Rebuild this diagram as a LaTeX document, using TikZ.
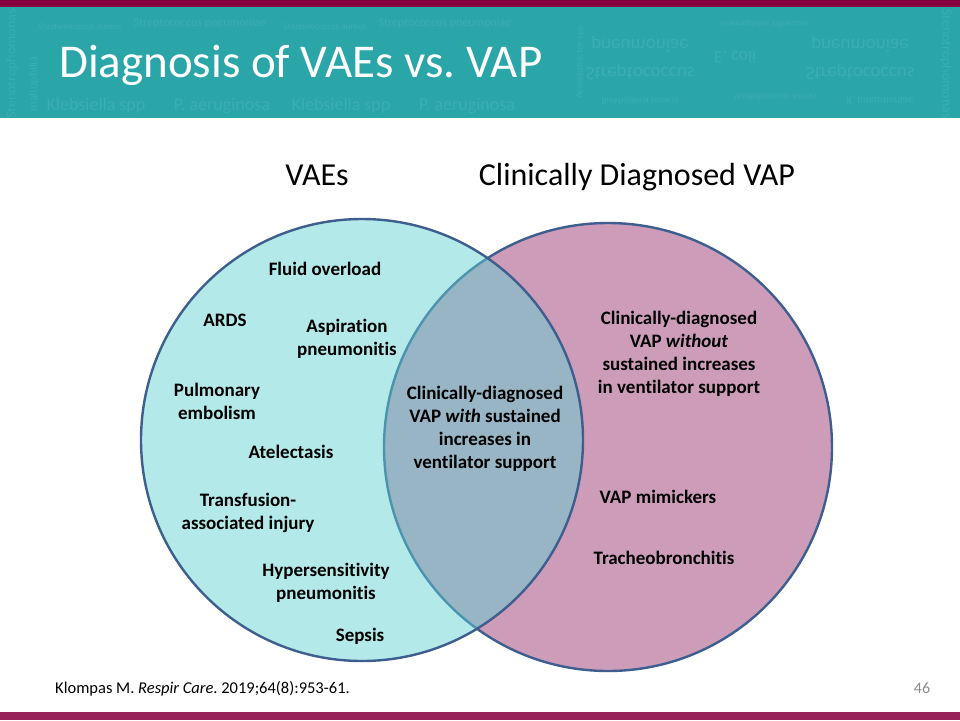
\documentclass[tikz,border=0pt]{standalone}
\usepackage{fontspec}
\setmainfont{Carlito}[Ligatures=NoCommon]
\usetikzlibrary{positioning}
\frenchspacing

\definecolor{bandteal}{HTML}{2AA5A8}
\definecolor{bandlight}{HTML}{3BAEB1}
\definecolor{topmaroon}{HTML}{86003F}
\definecolor{footmaroon}{HTML}{97235A}
\definecolor{vaefill}{HTML}{B3E9E9}
\definecolor{vapfill}{HTML}{CC9CB8}
\definecolor{lensfill}{HTML}{97B5C4}
\definecolor{ringblue}{HTML}{3D5E8E}
\definecolor{lensring}{HTML}{4B94AE}

\tikzset{
  item/.style={font=\fontsize{19}{22.8}\selectfont\bfseries, align=center, inner sep=0pt},
  heading/.style={font=\fontsize{32}{36}\selectfont, inner sep=0pt},
  texture/.style={inner sep=0pt, text=bandlight, font=\fontsize{#1}{#1}\selectfont},
  ring/.style={draw=ringblue, line width=2.4pt},
}

\begin{document}
\begin{tikzpicture}[x=1pt, y=-1pt]
\useasboundingbox (0,0) rectangle (960,720);

% header band
\fill[topmaroon] (0,0) rectangle (960,7);
\fill[bandteal] (0,7) rectangle (960,118);
\begin{scope}
\clip (0,7) rectangle (960,118);
\foreach \x/\y/\r/\s/\t [count=\i] in {
  12/64/90/14/Stenotrophomonas, 34/84/90/12/maltophilia,
  80/27/0/9/Staphylococcus aureus, 200/23/0/12/Streptococcus pneumoniae,
  96/106/0/18/Klebsiella spp, 222/106/0/18/P. aeruginosa,
  325/27/0/9/Staphylococcus aureus, 445/23/0/12/Streptococcus pneumoniae,
  341/106/0/18/Klebsiella spp, 467/106/0/18/P. aeruginosa,
  580/62/90/10/Acinetobacter spp, 946/64/-90/14/Stenotrophomonas}
  \node[texture=\s, rotate=\r] (bgl\i) at (\x,\y) {\t};
\foreach \x/\y/\s/\t [count=\i] in {
  640/45/19/pneumoniae, 640/72/19/Streptococcus,
  735/58/18/E. coli, 775/97/9/Staphylococcus aureus,
  640/101/9/Burkholderia cepacia, 880/100/11/K. pneumoniae,
  765/24/9/Haemophilus influenzae,
  860/45/19/pneumoniae, 860/72/19/Streptococcus}
  \node[texture=\s, yscale=-1] (bgr\i) at (\x,\y) {\t};
\end{scope}
\node[anchor=base west, text=white, inner sep=0pt,
  font=\fontsize{47}{47}\selectfont] (title) at (59,77) {Diagnosis of VAEs vs. VAP};

% venn circles
\fill[vapfill] (608,447) circle (224);
\fill[vaefill] (362,440) circle (221);
\begin{scope}
\clip (362,440) circle (221);
\fill[lensfill] (608,447) circle (224);
\draw[lensring, line width=2.4pt] (608,447) circle (224);
\end{scope}
\begin{scope}[even odd rule]
\clip (0,0) rectangle (960,720) (362,440) circle (221);
\draw[ring] (608,447) circle (224);
\end{scope}
\draw[ring] (362,440) circle (221);

% set headings
\node[heading] (vaes) at (317,175) {VAEs};
\node[heading] (vap) at (637,177) {Clinically Diagnosed VAP};

% VAE only
\node[item] (fluid) at (325,269) {Fluid overload};
\node[item] (ards) at (225,320) {ARDS};
\node[item] (aspir) at (347,339) {Aspiration\\pneumonitis};
\node[item] (pulm) at (217,401) {Pulmonary\\embolism};
\node[item] (atel) at (291,452) {Atelectasis};
\node[item] (transf) at (248,513) {Transfusion-\\associated injury};
\node[item] (hyper) at (326,583) {Hypersensitivity\\pneumonitis};
\node[item] (sepsis) at (360,636) {Sepsis};

% overlap
\node[item] (both) at (485,429) {Clinically-diagnosed\\VAP \textit{with} sustained\\increases in\\ventilator support};

% VAP only
\node[item] (without) at (679,354) {Clinically-diagnosed\\VAP \textit{without}\\sustained increases\\in ventilator support};
\node[item] (mimic) at (658,497) {VAP mimickers};
\node[item] (trach) at (664,558) {Tracheobronchitis};

% footer
\node[anchor=west, inner sep=0pt, font=\fontsize{16.5}{18}\selectfont] (cite) at (55,689)
  {Klompas M. \textit{Respir Care}. 2019;64(8):953-61.};
\node[inner sep=0pt, text=black!45, font=\fontsize{16}{18}\selectfont] (page) at (922,688) {46};
\fill[footmaroon] (0,712) rectangle (960,720);
\end{tikzpicture}
\end{document}
